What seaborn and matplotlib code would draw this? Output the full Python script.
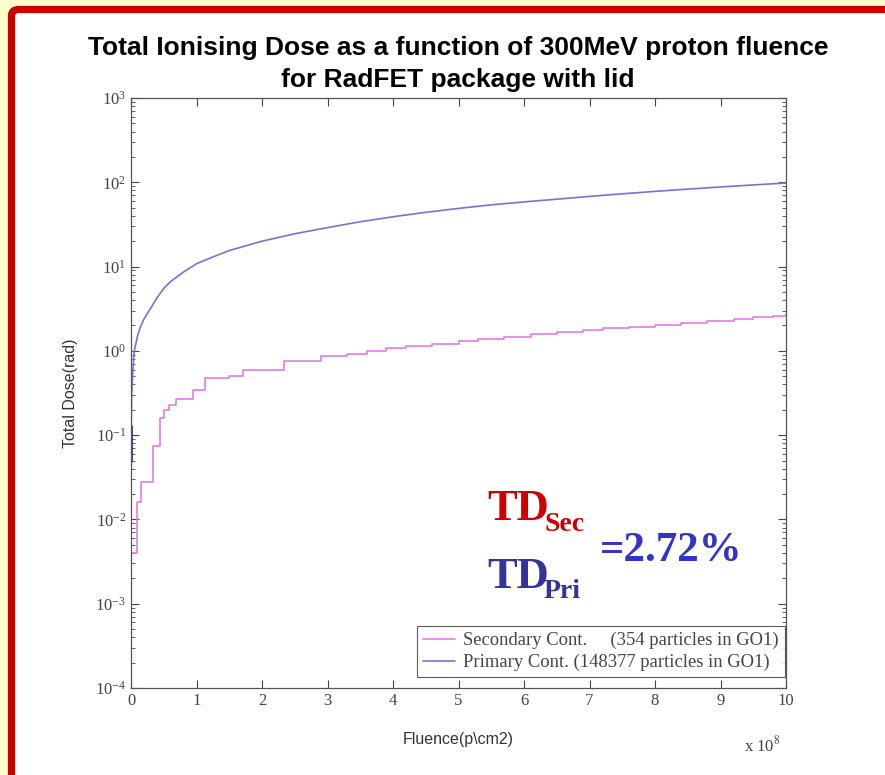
import numpy as np
import pandas as pd
import matplotlib
matplotlib.use("Agg")
import matplotlib.pyplot as plt
from matplotlib.patches import FancyBboxPatch
from matplotlib.ticker import LogLocator, FixedLocator
import seaborn as sns

# ------------------------------------------------------------
# Donnees (fluence en unites de 1e8 p/cm2)
# ------------------------------------------------------------
fluence_pri = [0.0, 0.003, 0.01, 0.03, 0.05, 0.1, 0.14, 0.2, 0.3, 0.4, 0.5, 0.6,
               0.8, 1.0, 1.25, 1.5, 2.0, 2.5, 3.0, 3.5, 4.0, 4.5, 5.0, 5.5, 6.0,
               6.5, 7.0, 7.5, 8.0, 8.5, 9.0, 9.5, 10.0]
dose_pri = [0.05, 0.13, 0.3, 0.6, 1.0, 1.5, 1.9, 2.4, 3.2, 4.3, 5.5, 6.6,
            8.6, 10.8, 13.0, 15.5, 20.0, 24.5, 29.0, 34.0, 39.0, 44.0, 49.0, 54.0, 58.5,
            63.0, 68.0, 73.0, 78.0, 83.0, 88.0, 93.0, 98.0]

fluence_sec = [0.0, 0.003, 0.09, 0.16, 0.34, 0.44, 0.5, 0.58, 0.68, 0.95, 1.13, 1.5,
               1.71, 2.33, 2.9, 3.3, 3.6, 3.9, 4.2, 4.6, 5.0, 5.3, 5.7, 6.1, 6.5,
               6.9, 7.2, 7.6, 8.0, 8.4, 8.8, 9.2, 9.5, 9.8, 10.0]
dose_sec = [0.0013, 0.004, 0.016, 0.028, 0.075, 0.16, 0.2, 0.23, 0.27, 0.34, 0.47, 0.5,
            0.6, 0.75, 0.87, 0.93, 1.0, 1.07, 1.13, 1.22, 1.32, 1.4, 1.48, 1.58, 1.68,
            1.77, 1.85, 1.93, 2.02, 2.12, 2.25, 2.38, 2.5, 2.62, 2.7]

label_sec = "Secondary Cont.     (354 particles in GO1)"
label_pri = "Primary Cont. (148377 particles in GO1)"
titre_1 = "Total Ionising Dose as a function of 300MeV proton fluence"
titre_2 = "for RadFET package with lid"
x_ticks = list(range(0, 11))
y_ticks = [1e-4, 1e-3, 1e-2, 1e-1, 1e0, 1e1, 1e2, 1e3]

couleur_sec = "#E27BE6"
couleur_pri = "#7474D4"

# ------------------------------------------------------------
# Style
# ------------------------------------------------------------
sns.set_style("ticks")
plt.rcParams["font.family"] = ["Liberation Sans", "DejaVu Sans"]
plt.rcParams["mathtext.fontset"] = "stix"

fig = plt.figure(figsize=(8.85, 7.75), dpi=100, facecolor="#FFFFCC")

# cadre rouge du transparent (sous les axes)
cadre = FancyBboxPatch((11.5 / 885, -0.2), 1.2, (775 - 9.5) / 775 + 0.2,
                       boxstyle="round,pad=0,rounding_size=0.008",
                       transform=fig.transFigure, facecolor="white",
                       edgecolor="#CC0000", linewidth=5.2, zorder=-5)
fig.patches.append(cadre)

ax = fig.add_axes([131 / 885, (775 - 688) / 775, (786 - 131) / 885, (688 - 98) / 775])
ax.set_zorder(2)
ax.set_facecolor("white")

df_sec = pd.DataFrame({"fluence": fluence_sec, "dose": dose_sec})
df_pri = pd.DataFrame({"fluence": fluence_pri, "dose": dose_pri})

sns.lineplot(data=df_sec, x="fluence", y="dose", ax=ax, color=couleur_sec,
             linewidth=1.2, drawstyle="steps-post", estimator=None, label=label_sec)
sns.lineplot(data=df_pri, x="fluence", y="dose", ax=ax, color=couleur_pri,
             linewidth=1.2, estimator=None, label=label_pri)
# petit segment fonce au depart de la courbe primaire
ax.plot([0, 0], [dose_pri[0], dose_pri[1]], color="#2a2aa0", linewidth=2)

ax.set_yscale("log")
ax.set_xlim(0, 10)
ax.set_ylim(1e-4, 1e3)
ax.xaxis.set_major_locator(FixedLocator(x_ticks))
ax.yaxis.set_major_locator(FixedLocator(y_ticks))
ax.yaxis.set_minor_locator(LogLocator(base=10, subs=np.arange(2, 10), numticks=20))

ax.tick_params(which="both", direction="in", top=True, right=True, colors="#444444",
               labelcolor="#444444")
ax.tick_params(which="major", length=6, width=0.8, labelsize=12)
ax.tick_params(which="minor", length=3, width=0.6)
for lab in ax.get_xticklabels() + ax.get_yticklabels():
    lab.set_fontfamily("Liberation Serif")
for sp in ax.spines.values():
    sp.set_color("#555555")
    sp.set_linewidth(0.9)

ax.set_xlabel("Fluence(p\\cm2)", fontsize=11.5, color="#333333", labelpad=17)
ax.set_ylabel("Total Dose(rad)", fontsize=11.5, color="#333333", labelpad=12)

ax.text(0.992, -0.097, r"x 10$^{8}$", transform=ax.transAxes, ha="right", va="center",
        fontsize=12, color="#444444", family="Liberation Serif")

leg = ax.legend(loc="lower right", bbox_to_anchor=(0.998, 0.019), frameon=True,
                fancybox=False, borderaxespad=0.0, handlelength=1.75,
                labelspacing=0.25, borderpad=0.3, handletextpad=0.45,
                prop={"family": "Liberation Serif", "size": 13.4})
leg.get_frame().set_edgecolor("#333333")
leg.get_frame().set_linewidth(0.8)
for t in leg.get_texts():
    t.set_color("#444444")

# titre (deux lignes)
fig.text(458 / 885, (775 - 48) / 775, titre_1, ha="center", va="center", fontsize=19,
         fontweight="bold", color="black")
fig.text(458 / 885, (775 - 80) / 775, titre_2, ha="center", va="center", fontsize=19,
         fontweight="bold", color="black")

# rapport TDsec / TDpri
serif_b = dict(family="Liberation Serif", fontweight="bold", zorder=5)
fig.text(487 / 885, (775 - 520) / 775, "TD", fontsize=32, color="#CC0000", **serif_b)
fig.text(544 / 885, (775 - 531) / 775, "Sec", fontsize=20, color="#CC0000", **serif_b)
fig.text(487 / 885, (775 - 588) / 775, "TD", fontsize=32, color="#333399", **serif_b)
fig.text(544 / 885, (775 - 598) / 775, "Pri", fontsize=20, color="#333399", **serif_b)
fig.text(600 / 885, (775 - 561) / 775, "=2.72%", fontsize=31, color="#3333CC", **serif_b)

fig.savefig("out.png", dpi=100, facecolor=fig.get_facecolor())
